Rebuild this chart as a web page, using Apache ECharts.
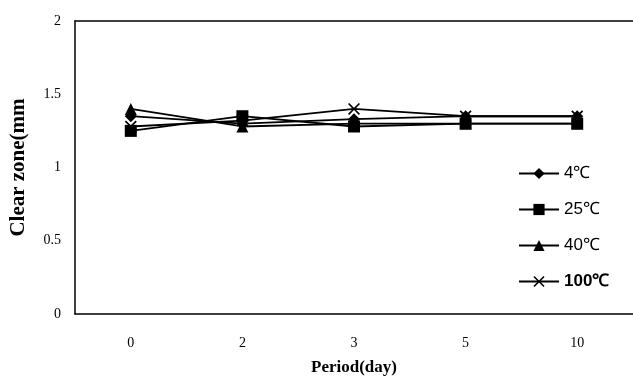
<!DOCTYPE html>
<html>
<head>
<meta charset="utf-8">
<script src="https://cdn.jsdelivr.net/npm/echarts@6/dist/echarts.min.js"></script>
<style>html,body{margin:0;padding:0;background:#fff}#c{width:633px;height:383px}</style>
</head>
<body>
<div id="c"></div>
<script>
const categories = ['0', '2', '3', '5', '10'];
const seriesNames = ['4℃', '25℃', '40℃', '100℃'];
const s4 = [1.35, 1.30, 1.33, 1.35, 1.35];
const s25 = [1.25, 1.35, 1.28, 1.30, 1.30];
const s40 = [1.40, 1.28, 1.30, 1.30, 1.30];
const s100 = [1.28, 1.32, 1.40, 1.35, 1.35];
const yTicks = [0, 0.5, 1, 1.5, 2];

const xPath = 'path://M0,1 L1,0 L5,4 L9,0 L10,1 L6,5 L10,9 L9,10 L5,6 L1,10 L0,9 L4,5 Z';
const symbols = ['diamond', 'rect', 'triangle', xPath];
const sizes = [12, 12, 12, 12];
const values = [s4, s25, s40, s100];

const chart = echarts.init(document.getElementById('c'), null, {renderer: 'canvas'});
chart.setOption({
  animation: false,
  backgroundColor: '#fff',
  grid: {left: 74, right: 0, top: 21, bottom: 69, containLabel: false},
  legend: {
    orient: 'vertical',
    left: 513,
    top: 160,
    itemWidth: 40,
    itemHeight: 14,
    itemGap: 19,
    textStyle: {fontFamily: 'Liberation Sans Narrow, Liberation Sans', fontSize: 17, color: '#000'},
    data: seriesNames.map((n, i) => ({
      name: n,
      textStyle: i === 3 ? {fontWeight: 'bold'} : {}
    }))
  },
  xAxis: [{
    type: 'category',
    data: categories,
    boundaryGap: true,
    axisLine: {show: true, lineStyle: {color: '#000', width: 1.5}},
    axisTick: {show: false},
    axisLabel: {margin: 22, fontFamily: 'Liberation Serif', fontSize: 14, color: '#000'},
    name: 'Period(day)',
    nameLocation: 'middle',
    nameGap: 45,
    nameTextStyle: {fontFamily: 'Liberation Serif', fontWeight: 'bold', fontSize: 17, color: '#000'}
  }, {
    type: 'category',
    data: categories,
    position: 'top',
    axisLine: {show: true, lineStyle: {color: '#000', width: 1.5}},
    axisTick: {show: false},
    axisLabel: {show: false}
  }],
  yAxis: {
    type: 'value',
    min: yTicks[0],
    max: yTicks[yTicks.length - 1],
    interval: 0.5,
    axisLine: {show: true, lineStyle: {color: '#000', width: 1.5}},
    axisTick: {show: false},
    splitLine: {show: false},
    axisLabel: {margin: 14, fontFamily: 'Liberation Serif', fontSize: 14, color: '#000'},
    name: 'Clear zone(mm',
    nameLocation: 'middle',
    nameRotate: 90,
    nameGap: 46,
    nameTextStyle: {fontFamily: 'Liberation Serif', fontWeight: 'bold', fontSize: 21, color: '#000'}
  },
  series: seriesNames.map((n, i) => ({
    name: n,
    type: 'line',
    data: values[i],
    symbol: symbols[i],
    symbolSize: sizes[i],
    showAllSymbol: true,
    lineStyle: {color: '#000', width: 1.8},
    itemStyle: {color: '#000'},
    z: 2 + i
  }))
});
</script>
</body>
</html>
